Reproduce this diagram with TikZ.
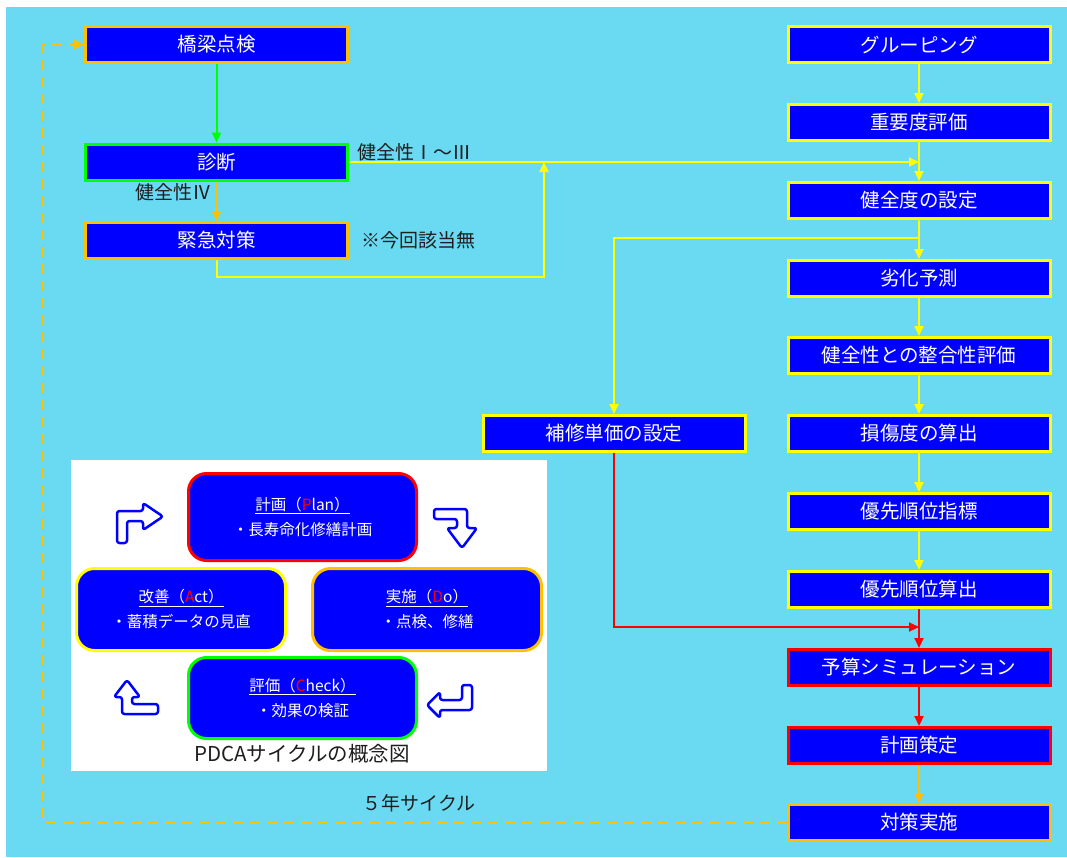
\documentclass[tikz,border=0pt]{standalone}
\usepackage{fontspec}
\setmainfont{Noto Sans CJK JP}
\usetikzlibrary{arrows.meta}
\definecolor{bgc}{RGB}{106,217,242}
\definecolor{boxblue}{RGB}{0,0,255}
\definecolor{cyel}{RGB}{255,255,0}
\definecolor{corg}{RGB}{255,192,0}
\definecolor{cgrn}{RGB}{0,255,0}
\definecolor{cred}{RGB}{255,0,0}
\definecolor{txtdark}{RGB}{30,30,30}
\begin{document}
\begin{tikzpicture}[x=1pt,y=-1pt,
  flowbox/.style={draw=#1, line width=3pt, fill=boxblue, text=white, minimum width=262pt, minimum height=36pt, inner sep=0pt, font=\fontsize{19.5}{21}\selectfont},
  pdcabox/.style={draw=#1, line width=3pt, fill=boxblue, text=white, rounded corners=18pt, inner sep=0pt, align=center, font=\fontsize{15.5}{25}\selectfont},
  lbl/.style={text=txtdark, inner sep=0pt, font=\fontsize{19}{21}\selectfont},
  conn/.style={draw=#1, line width=2pt, -{Triangle[length=10pt,width=9pt]}},
  dashconn/.style={draw=#1, line width=2.5pt, dash pattern=on 10pt off 7pt, -{Triangle[length=10pt,width=9pt]}},
  blockarrow/.style={draw=boxblue, fill=white, line width=2.5pt, line join=round, rounded corners=2.5pt},
]
\useasboundingbox (0,0) rectangle (1067,857);
\fill[white] (0,0) rectangle (1067,857);
\fill[bgc] (6,7) rectangle (1067,857);

% left column
\node[flowbox=corg] (kyo) at (216.5,44.5) {橋梁点検};
\node[flowbox=cgrn] (shin) at (216.5,162) {診断};
\node[flowbox=corg] (kin) at (216.5,240.5) {緊急対策};

% right column
\node[flowbox=cyel] (g) at (919,44.5) {グルーピング};
\node[flowbox=cyel] (jy) at (919,122.5) {重要度評価};
\node[flowbox=cyel] (ken) at (919,200.5) {健全度の設定};
\node[flowbox=cyel] (rek) at (919,278.5) {劣化予測};
\node[flowbox=cyel] (sei) at (919,355.5) {健全性との整合性評価};
\node[flowbox=cyel] (son) at (919,433.5) {損傷度の算出};
\node[flowbox=cyel] (yus) at (919,511.5) {優先順位指標};
\node[flowbox=cyel] (yum) at (919,589.5) {優先順位算出};
\node[flowbox=cred] (yos) at (919,667.5) {予算シミュレーション};
\node[flowbox=cred] (kei) at (919,745.5) {計画策定};
\node[flowbox=corg] (tai) at (919,822.5) {対策実施};
\node[flowbox=cyel] (hos) at (614,433.5) {補修単価の設定};

% labels
\node[lbl] (l4) at (173,192) {健全性Ⅳ};
\node[lbl] (l13) at (414,152) {健全性Ⅰ～Ⅲ};
\node[lbl] (lno) at (418,240) {※今回該当無};
\node[lbl] (l5) at (419,803) {５年サイクル};

% junctions
\coordinate (j1) at (919,162);
\coordinate (j2) at (544,162);
\coordinate (c1) at (544,277);
\coordinate (j3) at (919,238);
\coordinate (j4) at (919,627);
\coordinate (d1) at (43,822.5);
\coordinate (d2) at (43,44.5);

% connectors
\draw[conn=cgrn] (kyo) -- (shin);
\draw[conn=corg] (shin) -- (kin);
\draw[conn=cyel] (shin.east) -- (j1);
\draw[conn=cyel] (kin.south) |- (c1) -- (j2);
\draw[conn=cyel] (g) -- (jy);
\draw[conn=cyel] (jy) -- (ken);
\draw[conn=cyel] (ken) -- (rek);
\draw[conn=cyel] (j3) -| (hos.north);
\draw[conn=cyel] (rek) -- (sei);
\draw[conn=cyel] (sei) -- (son);
\draw[conn=cyel] (son) -- (yus);
\draw[conn=cyel] (yus) -- (yum);
\draw[conn=cred] (yum) -- (yos);
\draw[conn=cred] (hos.south) |- (j4);
\draw[conn=cred] (yos) -- (kei);
\draw[conn=corg] (kei) -- (tai);
\draw[dashconn=corg] (tai.west) -- (d1) -- (d2) -- (kyo.west);

% PDCA panel
\fill[white] (71,460) rectangle (547,771);
\node[pdcabox=cred, minimum width=228pt, minimum height=87pt] (plan) at (302.5,517)
  {\underline{計画（\textcolor{cred}{P}lan）}\\・長寿命化修繕計画};
\node[pdcabox=cyel, minimum width=209pt, minimum height=82pt] (act) at (181,609.5)
  {\underline{改善（\textcolor{cred}{A}ct）}\\・蓄積データの見直};
\node[pdcabox=corg, minimum width=229pt, minimum height=82pt] (do) at (427,609.5)
  {\underline{実施（\textcolor{cred}{D}o）}\\・点検、修繕};
\node[pdcabox=cgrn, minimum width=228pt, minimum height=81pt] (chk) at (302.5,698)
  {\underline{評価（\textcolor{cred}{C}heck）}\\・効果の検証};
\node[lbl, font=\fontsize{20.5}{22}\selectfont] (cap) at (302,754) {PDCAサイクルの概念図};

% block arrows
\draw[blockarrow] (117,543) -- (117,511) -- (143,511) -- (143,503) -- (163,516.5) -- (143,530) -- (143,521) -- (127,521) -- (127,543) -- cycle;
\draw[blockarrow] (434,509) -- (467,509) -- (467,528) -- (477,528) -- (462,548) -- (447,528) -- (457,528) -- (457,519) -- (434,519) -- cycle;
\draw[blockarrow] (127,680) -- (140,697) -- (132,697) -- (132,704) -- (158,704) -- (158,714) -- (122,714) -- (122,697) -- (114,697) -- cycle;
\draw[blockarrow] (472,685) -- (472,710) -- (440,710) -- (440,718) -- (427,705) -- (440,692) -- (440,700) -- (462,700) -- (462,685) -- cycle;
\end{tikzpicture}
\end{document}
